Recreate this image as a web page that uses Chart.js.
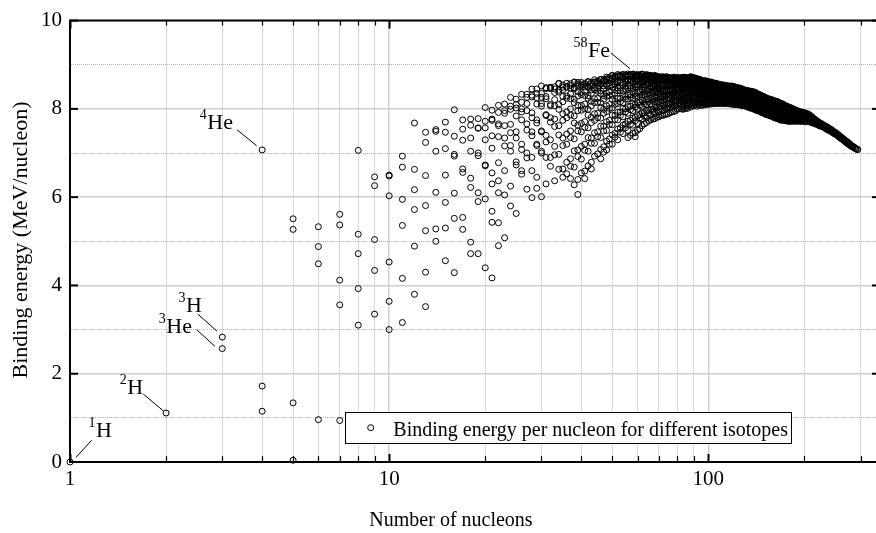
<!DOCTYPE html>
<html>
<head>
<meta charset="utf-8">
<script src="https://cdn.jsdelivr.net/npm/chart.js@4.4.1/dist/chart.umd.min.js"></script>
<style>
html,body{margin:0;padding:0;overflow:hidden;background:#fff;width:876px;height:533px}
canvas{display:block}
</style>
</head>
<body>
<canvas id="c" width="884" height="533"></canvas>
<script>
// ---------------- DATA ----------------
const massNumbers = [
  1,2,3,4,5,6,7,8,9,10,11,12,13,14,15,16,17,18,19,20,21,22,23,24,25,26,27,28,29,30,31,32,
  33,34,35,36,37,38,39,40,41,42,43,44,45,46,47,48,49,50,51,52,53,54,55,56,57,58,59,
  60,61,62,63,64,65,66,67,68,69,70,71,72,73,74,75,76,77,78,79,
  80,81,82,83,84,85,86,87,88,89,90,91,92,93,94,95,96,97,98,99,
  100,102,104,106,108,110,112,114,116,118,120,122,124,126,128,130,132,134,136,138,140,142,144,146,148,150,
  152,154,156,158,160,162,164,166,168,170,172,174,176,178,180,182,184,186,188,190,192,194,196,198,200,
  203,206,209,212,215,218,221,224,227,230,233,236,239,242,245,248,251,254,257,260,263,266,269,272,275,278,281,284,287,290,293,294
];
const bindingEnergies = [
  [0],
  [1.11],
  [2.83,2.57],
  [7.07,1.72,1.15],
  [5.51,5.27,1.34,0.04],
  [5.33,4.88,4.49,0.96],
  [5.61,5.37,4.12,3.56,0.94],
  [7.06,5.16,4.72,3.93,3.10],
  [6.46,6.26,5.04,4.34,3.35],
  [6.50,6.48,6.03,4.53,3.64,3.00],
  [6.93,6.68,5.95,5.36,4.16,3.16],
  [7.68,6.63,6.17,5.72,4.89,3.80],
  [7.47,7.24,6.49,5.81,5.24,4.30,3.52],
  [7.53,7.49,7.04,6.11,5.28,5.00],
  [7.70,7.47,7.10,6.50,5.88,5.30,4.56],
  [7.98,7.38,6.97,6.93,6.09,5.52,4.29],
  [7.75,7.54,7.29,6.64,6.56,5.54,5.27],
  [7.77,7.63,7.34,7.04,6.43,6.22,4.98,4.72],
  [7.78,7.57,7.56,7.00,6.94,6.10,5.90,4.72],
  [8.03,7.72,7.57,7.30,6.73,6.71,5.96,4.40],
  [7.97,7.77,7.74,7.39,7.11,6.55,6.30,5.68,5.43,4.17],
  [8.08,7.92,7.66,7.62,7.37,6.78,6.37,6.10,5.42,4.90],
  [8.11,7.96,7.90,7.62,7.34,7.16,6.60,6.05,5.08],
  [8.26,8.06,7.99,7.65,7.46,7.17,7.04,6.25,5.80],
  [8.22,8.10,8.02,7.84,7.48,7.34,6.80,6.73,5.63],
  [8.33,8.15,8.00,7.93,7.75,7.20,7.08,6.60,6.52],
  [8.33,8.26,8.12,7.96,7.66,7.52,7.00,6.89,6.18],
  [8.45,8.31,8.27,7.91,7.80,7.48,7.39,6.90,6.60,5.99],
  [8.45,8.35,8.25,8.11,7.75,7.68,7.20,7.17,6.45,6.20],
  [8.52,8.35,8.26,8.12,8.06,7.50,7.48,7.04,7.00,6.01],
  [8.48,8.46,8.28,8.23,7.87,7.85,7.40,7.25,6.90,6.30],
  [8.49,8.48,8.46,8.10,8.07,7.80,7.70,7.30,6.90,6.70],
  [8.50,8.45,8.37,8.21,8.07,7.77,7.60,7.15,6.96,6.37],
  [8.58,8.57,8.42,8.38,8.10,7.99,7.62,7.41,6.97,6.63],
  [8.54,8.49,8.43,8.28,8.16,7.89,7.74,7.34,7.17,6.64,6.45],
  [8.58,8.51,8.49,8.29,8.24,7.93,7.80,7.43,7.20,6.79,6.53],
  [8.57,8.53,8.47,8.34,8.23,8.00,7.86,7.50,7.35,6.87,6.70,6.42],
  [8.61,8.60,8.48,8.45,8.22,8.14,7.84,7.68,7.32,7.05,6.68,6.28],
  [8.60,8.56,8.51,8.39,8.29,8.08,7.96,7.63,7.50,7.07,6.92,6.40,6.06],
  [8.60,8.54,8.53,8.37,8.32,8.08,7.97,7.67,7.48,7.15,6.86,6.55],
  [8.58,8.55,8.50,8.39,8.30,8.11,8.00,7.71,7.58,7.20,7.06,6.59,6.42],
  [8.62,8.61,8.51,8.49,8.30,8.24,7.99,7.86,7.57,7.35,7.04,6.71],
  [8.60,8.57,8.52,8.43,8.35,8.17,8.07,7.81,7.69,7.34,7.22,6.79,6.64],
  [8.66,8.61,8.60,8.47,8.43,8.23,8.14,7.89,7.74,7.46,7.22,6.93],
  [8.63,8.60,8.56,8.47,8.40,8.24,8.15,7.90,7.80,7.48,7.37,6.98],
  [8.67,8.66,8.58,8.56,8.41,8.35,8.14,8.03,7.79,7.61,7.35,7.08,6.87],
  [8.66,8.63,8.60,8.52,8.45,8.30,8.22,7.99,7.90,7.61,7.50,7.14,7.02],
  [8.72,8.68,8.67,8.56,8.53,8.36,8.28,8.07,7.94,7.71,7.51,7.27,7.07],
  [8.71,8.69,8.65,8.58,8.52,8.38,8.30,8.10,8.01,7.74,7.65,7.32,7.20],
  [8.76,8.75,8.69,8.67,8.54,8.49,8.31,8.22,8.02,7.86,7.64,7.41,7.20],
  [8.74,8.72,8.69,8.62,8.56,8.44,8.36,8.17,8.10,7.85,7.76,7.45,7.36],
  [8.78,8.75,8.74,8.64,8.61,8.47,8.41,8.23,8.12,7.92,7.75,7.54,7.30],
  [8.76,8.74,8.71,8.65,8.59,8.48,8.41,8.24,8.16,7.93,7.85,7.57,7.47],
  [8.78,8.77,8.72,8.70,8.59,8.55,8.40,8.32,8.14,8.01,7.82,7.63,7.44],
  [8.77,8.75,8.72,8.67,8.62,8.51,8.45,8.28,8.22,8.00,7.93,7.66,7.57],
  [8.79,8.76,8.75,8.67,8.65,8.52,8.47,8.31,8.22,8.05,7.90,7.72,7.51,7.35],
  [8.77,8.75,8.73,8.67,8.63,8.53,8.47,8.32,8.26,8.06,7.98,7.74,7.65,7.40],
  [8.79,8.78,8.73,8.72,8.62,8.59,8.46,8.39,8.24,8.12,7.96,7.79,7.63,7.45],
  [8.77,8.75,8.73,8.68,8.64,8.54,8.49,8.35,8.29,8.10,8.04,7.81,7.73,7.46,7.37],
  [8.78,8.75,8.74,8.68,8.66,8.55,8.50,8.37,8.28,8.14,8.01,7.85,7.67,7.52],
  [8.77,8.75,8.73,8.69,8.65,8.56,8.51,8.38,8.32,8.15,8.08,7.87,7.80,7.55],
  [8.79,8.78,8.74,8.73,8.64,8.61,8.50,8.44,8.31,8.20,8.06,7.91,7.77,7.62],
  [8.75,8.74,8.71,8.67,8.63,8.55,8.50,8.38,8.33,8.17,8.11,7.91,7.84,7.66],
  [8.78,8.76,8.75,8.69,8.67,8.58,8.53,8.42,8.34,8.21,8.10,7.96,7.80,7.69],
  [8.76,8.75,8.73,8.69,8.65,8.57,8.53,8.41,8.36,8.21,8.16,7.97,7.90,7.73],
  [8.76,8.75,8.72,8.71,8.63,8.60,8.50,8.45,8.33,8.24,8.12,7.99,7.86,7.75],
  [8.74,8.73,8.71,8.67,8.64,8.56,8.52,8.41,8.37,8.22,8.17,7.99,7.93,7.77],
  [8.76,8.74,8.73,8.68,8.66,8.58,8.54,8.44,8.37,8.26,8.16,8.04,7.90,7.78],
  [8.73,8.72,8.70,8.66,8.63,8.56,8.53,8.42,8.38,8.24,8.19,8.03,7.97,7.81],
  [8.73,8.72,8.69,8.68,8.62,8.59,8.50,8.45,8.35,8.27,8.16,8.04,7.93,7.82],
  [8.72,8.71,8.69,8.66,8.63,8.56,8.53,8.43,8.39,8.26,8.21,8.06,8.00,7.85],
  [8.73,8.71,8.70,8.66,8.64,8.57,8.54,8.44,8.39,8.28,8.19,8.09,7.96,7.85],
  [8.71,8.70,8.68,8.65,8.62,8.56,8.53,8.43,8.39,8.27,8.23,8.08,8.03,7.87],
  [8.73,8.72,8.70,8.69,8.63,8.61,8.53,8.48,8.39,8.32,8.22,8.11,8.02,7.88],
  [8.70,8.69,8.68,8.64,8.62,8.56,8.53,8.44,8.40,8.29,8.25,8.11,8.06,7.89],
  [8.71,8.69,8.68,8.65,8.63,8.57,8.54,8.45,8.40,8.31,8.23,8.13,8.02,7.92],
  [8.70,8.69,8.68,8.65,8.62,8.57,8.54,8.45,8.42,8.31,8.27,8.13,8.09,7.93],
  [8.72,8.71,8.69,8.68,8.63,8.61,8.54,8.50,8.41,8.35,8.26,8.17,8.08,7.94],
  [8.69,8.68,8.67,8.64,8.62,8.56,8.53,8.45,8.42,8.32,8.28,8.15,8.11,7.96],
  [8.71,8.70,8.69,8.65,8.64,8.58,8.55,8.48,8.43,8.35,8.28,8.19,8.09,8.00],
  [8.70,8.69,8.68,8.65,8.63,8.58,8.55,8.48,8.44,8.35,8.31,8.19,8.15,8.00],
  [8.71,8.70,8.68,8.67,8.63,8.61,8.54,8.51,8.43,8.38,8.30,8.21,8.13,8.01],
  [8.70,8.69,8.68,8.65,8.63,8.59,8.56,8.49,8.46,8.36,8.33,8.21,8.17,8.04,7.99],
  [8.72,8.71,8.70,8.67,8.66,8.60,8.58,8.51,8.47,8.39,8.32,8.24,8.15,8.07,8.00],
  [8.70,8.69,8.68,8.66,8.64,8.59,8.56,8.50,8.47,8.38,8.35,8.24,8.20,8.07,8.02],
  [8.71,8.70,8.68,8.67,8.63,8.62,8.56,8.53,8.46,8.41,8.33,8.25,8.18,8.07,8.01],
  [8.71,8.70,8.69,8.67,8.65,8.61,8.58,8.52,8.49,8.40,8.37,8.27,8.23,8.11,8.06],
  [8.73,8.72,8.71,8.68,8.67,8.62,8.60,8.54,8.50,8.43,8.37,8.30,8.21,8.14,8.04],
  [8.71,8.70,8.69,8.67,8.65,8.61,8.59,8.53,8.50,8.42,8.39,8.29,8.25,8.14,8.10],
  [8.71,8.70,8.69,8.68,8.64,8.63,8.57,8.54,8.48,8.43,8.37,8.29,8.23,8.13,8.07],
  [8.69,8.68,8.67,8.65,8.63,8.59,8.57,8.51,8.49,8.41,8.38,8.29,8.25,8.14,8.10],
  [8.69,8.68,8.67,8.65,8.64,8.59,8.57,8.51,8.48,8.42,8.36,8.29,8.22,8.15,8.06],
  [8.66,8.65,8.64,8.62,8.61,8.57,8.55,8.49,8.47,8.39,8.36,8.27,8.24,8.13,8.09],
  [8.67,8.66,8.65,8.64,8.61,8.59,8.54,8.52,8.46,8.42,8.36,8.29,8.23,8.14,8.08],
  [8.64,8.63,8.62,8.60,8.59,8.55,8.53,8.48,8.45,8.38,8.36,8.27,8.24,8.14,8.10],
  [8.64,8.63,8.62,8.60,8.59,8.55,8.53,8.48,8.45,8.39,8.34,8.28,8.21,8.15,8.08],
  [8.62,8.61,8.60,8.59,8.57,8.54,8.52,8.46,8.44,8.37,8.35,8.26,8.23,8.13,8.10],
  [8.64,8.63,8.62,8.61,8.58,8.57,8.52,8.50,8.45,8.41,8.35,8.29,8.23,8.15,8.10],
  [8.61,8.60,8.59,8.58,8.56,8.53,8.51,8.46,8.44,8.37,8.35,8.27,8.24,8.14,8.11],
  [8.62,8.61,8.60,8.58,8.57,8.54,8.52,8.47,8.44,8.39,8.34,8.29,8.22,8.16,8.10],
  [8.61,8.60,8.59,8.58,8.57,8.53,8.52,8.47,8.45,8.39,8.36,8.29,8.26,8.17,8.14,8.11],
  [8.59,8.58,8.57,8.56,8.54,8.53,8.49,8.47,8.42,8.38,8.33,8.28,8.23,8.15,8.12],
  [8.58,8.57,8.56,8.55,8.54,8.51,8.49,8.45,8.43,8.37,8.35,8.28,8.26,8.17,8.15,8.12],
  [8.56,8.55,8.54,8.53,8.52,8.49,8.47,8.43,8.41,8.36,8.32,8.27,8.22,8.17,8.12],
  [8.55,8.54,8.53,8.52,8.51,8.48,8.47,8.43,8.41,8.36,8.34,8.27,8.25,8.17,8.15,8.12],
  [8.54,8.53,8.52,8.51,8.50,8.49,8.45,8.43,8.39,8.36,8.32,8.27,8.23,8.16,8.12],
  [8.53,8.52,8.51,8.50,8.49,8.47,8.45,8.42,8.40,8.35,8.33,8.27,8.25,8.18,8.15,8.12],
  [8.52,8.51,8.50,8.49,8.48,8.46,8.45,8.41,8.39,8.35,8.31,8.27,8.22,8.18,8.12],
  [8.52,8.51,8.50,8.49,8.48,8.46,8.45,8.41,8.40,8.35,8.34,8.28,8.26,8.19,8.17,8.11],
  [8.51,8.50,8.49,8.48,8.47,8.46,8.43,8.42,8.38,8.35,8.32,8.28,8.24,8.18,8.15,8.10],
  [8.49,8.48,8.47,8.46,8.45,8.44,8.42,8.39,8.38,8.33,8.32,8.27,8.25,8.18,8.16,8.10],
  [8.48,8.47,8.46,8.45,8.44,8.43,8.41,8.38,8.36,8.33,8.30,8.26,8.22,8.18,8.12,8.09],
  [8.47,8.46,8.45,8.44,8.43,8.42,8.41,8.38,8.36,8.32,8.31,8.26,8.24,8.18,8.16,8.09],
  [8.45,8.44,8.43,8.42,8.41,8.40,8.38,8.37,8.34,8.31,8.28,8.24,8.21,8.16,8.13,8.07],
  [8.43,8.42,8.41,8.40,8.39,8.38,8.37,8.34,8.33,8.29,8.28,8.23,8.22,8.16,8.14,8.08],
  [8.42,8.41,8.40,8.39,8.38,8.37,8.36,8.33,8.32,8.29,8.26,8.23,8.19,8.16,8.10,8.05],
  [8.41,8.40,8.39,8.38,8.37,8.36,8.33,8.32,8.28,8.27,8.22,8.21,8.16,8.14,8.08,8.03],
  [8.40,8.39,8.38,8.37,8.36,8.34,8.33,8.30,8.28,8.25,8.22,8.19,8.14,8.12,8.06,8.02],
  [8.39,8.38,8.37,8.36,8.35,8.34,8.31,8.30,8.27,8.26,8.21,8.20,8.15,8.13,8.08,8.06,8.00],
  [8.38,8.37,8.36,8.35,8.34,8.33,8.30,8.29,8.26,8.24,8.21,8.18,8.15,8.10,8.08,8.02,7.98],
  [8.35,8.34,8.33,8.32,8.31,8.30,8.28,8.27,8.23,8.22,8.18,8.17,8.12,8.11,8.05,8.04,7.98,7.96],
  [8.33,8.32,8.31,8.30,8.29,8.28,8.27,8.24,8.22,8.20,8.17,8.14,8.10,8.08,8.03,8.01,7.95],
  [8.31,8.30,8.29,8.28,8.27,8.26,8.24,8.23,8.20,8.19,8.15,8.14,8.10,8.08,8.03,8.01,7.96,7.93],
  [8.29,8.28,8.27,8.26,8.25,8.24,8.22,8.21,8.18,8.16,8.14,8.11,8.08,8.04,8.02,7.96,7.94,7.91],
  [8.27,8.26,8.25,8.24,8.23,8.22,8.20,8.19,8.17,8.16,8.12,8.11,8.07,8.05,8.01,7.99,7.94,7.92,7.89],
  [8.25,8.24,8.23,8.20,8.17,8.13,8.08,8.02,7.96,7.89,7.87],
  [8.23,8.21,8.19,8.17,8.13,8.09,8.04,7.98,7.91,7.86],
  [8.22,8.21,8.20,8.17,8.14,8.11,8.06,8.01,7.94,7.88,7.84],
  [8.21,8.20,8.18,8.15,8.12,8.08,8.03,7.97,7.91,7.84],
  [8.19,8.18,8.17,8.15,8.12,8.08,8.04,7.99,7.93,7.86,7.81],
  [8.18,8.17,8.15,8.12,8.09,8.05,8.01,7.95,7.89,7.83,7.79],
  [8.17,8.16,8.15,8.13,8.10,8.07,8.02,7.98,7.92,7.86,7.79],
  [8.15,8.14,8.12,8.10,8.07,8.03,7.98,7.93,7.88,7.81,7.77],
  [8.13,8.12,8.11,8.09,8.06,8.03,7.99,7.95,7.89,7.83,7.77,7.75],
  [8.12,8.11,8.09,8.07,8.04,8.00,7.96,7.91,7.86,7.80,7.74],
  [8.10,8.09,8.08,8.06,8.04,8.01,7.97,7.92,7.87,7.82,7.75],
  [8.08,8.07,8.05,8.03,8.00,7.97,7.93,7.88,7.83,7.77,7.73],
  [8.06,8.05,8.04,8.02,8.00,7.97,7.93,7.89,7.84,7.79,7.73],
  [8.05,8.04,8.02,8.00,7.98,7.94,7.91,7.86,7.81,7.76,7.72],
  [8.03,8.02,8.01,8.00,7.97,7.94,7.91,7.87,7.82,7.77,7.72],
  [8.02,8.01,7.99,7.98,7.95,7.92,7.88,7.84,7.79,7.74,7.72],
  [8.00,7.99,7.98,7.97,7.95,7.92,7.88,7.85,7.80,7.75,7.72],
  [7.99,7.98,7.97,7.95,7.92,7.89,7.86,7.82,7.77,7.72],
  [7.97,7.96,7.95,7.94,7.92,7.89,7.86,7.82,7.78,7.73],
  [7.96,7.95,7.94,7.92,7.90,7.87,7.83,7.80,7.75,7.72],
  [7.94,7.93,7.92,7.91,7.89,7.86,7.83,7.80,7.76,7.72],
  [7.93,7.92,7.91,7.89,7.87,7.84,7.81,7.77,7.73],
  [7.93,7.92,7.91,7.90,7.88,7.86,7.83,7.79,7.76,7.72],
  [7.92,7.91,7.90,7.88,7.86,7.83,7.80,7.77,7.73],
  [7.91,7.90,7.89,7.88,7.86,7.84,7.81,7.78,7.74,7.71],
  [7.90,7.88,7.85,7.82,7.78,7.74,7.71],
  [7.88,7.86,7.83,7.80,7.77,7.74,7.71],
  [7.85,7.83,7.81,7.78,7.75,7.72,7.70],
  [7.81,7.80,7.78,7.75,7.73,7.70,7.68],
  [7.77,7.76,7.74,7.72,7.69,7.67],
  [7.74,7.73,7.71,7.69,7.67,7.65],
  [7.71,7.70,7.68,7.66,7.63],
  [7.68,7.67,7.65,7.63,7.61],
  [7.66,7.65,7.63,7.60],
  [7.63,7.62,7.60,7.58],
  [7.61,7.59,7.57,7.55],
  [7.59,7.57,7.55,7.53],
  [7.56,7.55,7.53,7.51],
  [7.54,7.52,7.51,7.49],
  [7.51,7.49,7.48,7.46],
  [7.48,7.47,7.45,7.44],
  [7.46,7.44,7.42],
  [7.43,7.41,7.39],
  [7.40,7.38,7.36],
  [7.37,7.35,7.33],
  [7.34,7.32,7.31],
  [7.31,7.30,7.28],
  [7.28,7.27,7.25],
  [7.26,7.24,7.22],
  [7.23,7.21,7.20],
  [7.20,7.18,7.17],
  [7.17,7.16,7.15],
  [7.15,7.14,7.13],
  [7.13,7.11],
  [7.10,7.09],
  [7.08],
  [7.08]
];
// odd mass numbers in the dense heavy band (A = 101 ... 199)
const heavyOddMassNumbers = [
  101,103,105,107,109,111,113,115,117,119,121,123,125,127,129,131,133,135,137,139,141,143,145,147,149,
  151,153,155,157,159,161,163,165,167,169,171,173,175,177,179,181,183,185,187,189,191,193,195,197,199
];
const heavyOddBindingEnergies = [
  [8.60,8.55,8.51,8.45,8.40,8.36,8.30,8.25,8.21,8.15],
  [8.57,8.52,8.48,8.42,8.37,8.33,8.27,8.22,8.17,8.12],
  [8.57,8.52,8.46,8.42,8.37,8.31,8.27,8.22,8.16,8.12],
  [8.54,8.49,8.45,8.39,8.34,8.30,8.24,8.19,8.14],
  [8.54,8.49,8.44,8.40,8.34,8.29,8.25,8.19,8.14],
  [8.52,8.46,8.41,8.37,8.31,8.26,8.22,8.16,8.13],
  [8.52,8.47,8.42,8.36,8.32,8.27,8.21,8.17,8.12],
  [8.50,8.44,8.39,8.35,8.29,8.24,8.20,8.14],
  [8.51,8.46,8.40,8.36,8.31,8.25,8.21,8.16,8.11],
  [8.48,8.43,8.39,8.33,8.28,8.24,8.18,8.13],
  [8.49,8.44,8.38,8.34,8.29,8.23,8.19,8.14,8.10],
  [8.46,8.40,8.35,8.31,8.25,8.20,8.16,8.10],
  [8.46,8.41,8.37,8.31,8.26,8.22,8.16,8.11],
  [8.44,8.38,8.33,8.29,8.23,8.18,8.14,8.08],
  [8.43,8.38,8.34,8.28,8.23,8.19,8.13,8.08],
  [8.40,8.34,8.29,8.25,8.19,8.14,8.10,8.06],
  [8.40,8.35,8.31,8.25,8.20,8.16,8.10,8.05],
  [8.38,8.32,8.27,8.23,8.17,8.12,8.08,8.02],
  [8.38,8.33,8.29,8.23,8.18,8.14,8.08,8.03],
  [8.36,8.30,8.25,8.21,8.15,8.10,8.06,8.00],
  [8.35,8.30,8.26,8.20,8.15,8.11,8.05,8.00],
  [8.32,8.26,8.21,8.17,8.11,8.06,8.02,7.96],
  [8.31,8.26,8.22,8.16,8.11,8.07,8.01,7.96],
  [8.28,8.22,8.17,8.13,8.07,8.02,7.98,7.92],
  [8.27,8.22,8.18,8.12,8.07,8.03,7.97,7.92],
  [8.25,8.20,8.16,8.10,8.05,8.01,7.95,7.90],
  [8.22,8.16,8.11,8.07,8.01,7.96,7.92,7.87],
  [8.22,8.17,8.13,8.07,8.02,7.98,7.92,7.87],
  [8.19,8.13,8.08,8.04,7.98,7.93,7.89,7.84],
  [8.19,8.14,8.10,8.04,7.99,7.95,7.89,7.84],
  [8.16,8.10,8.05,8.01,7.95,7.90,7.86,7.81],
  [8.16,8.11,8.07,8.01,7.96,7.92,7.86,7.81],
  [8.14,8.08,8.03,7.99,7.93,7.88,7.84,7.78],
  [8.13,8.08,8.04,7.98,7.93,7.89,7.83,7.78],
  [8.10,8.04,7.99,7.95,7.89,7.84,7.79],
  [8.10,8.05,8.01,7.95,7.90,7.86,7.80,7.75],
  [8.07,8.01,7.96,7.92,7.86,7.81,7.76],
  [8.06,8.01,7.97,7.91,7.86,7.82,7.76],
  [8.03,7.97,7.92,7.88,7.82,7.77,7.73],
  [8.03,7.98,7.94,7.88,7.83,7.79,7.73],
  [8.00,7.94,7.89,7.85,7.79,7.74],
  [8.00,7.95,7.91,7.85,7.80,7.76],
  [7.97,7.91,7.86,7.82,7.76],
  [7.97,7.92,7.88,7.82,7.77,7.73],
  [7.94,7.88,7.83,7.79,7.73],
  [7.94,7.89,7.85,7.79,7.74],
  [7.92,7.86,7.81,7.77],
  [7.92,7.87,7.83,7.77,7.72],
  [7.90,7.84,7.79,7.75],
  [7.90,7.85,7.81,7.75]
];
const seriesLabel = 'Binding energy per nucleon for different isotopes';
const xAxisTitle = 'Number of nucleons';
const yAxisTitle = 'Binding energy (MeV/nucleon)';
const xTickValues = [1,2,3,4,5,6,7,8,9,10,20,30,40,50,60,70,80,90,100,200,300];
const xTickLabels = ['1','10','100'];
const yTickLabels = ['0','2','4','6','8','10'];
// labelled isotopes
const labelMass = ['1','2','3','3','4','58'];
const labelSymbol = ['H','H','H','He','He','Fe'];
const labelA = [1,2,3,3,4,58];
const labelEnergy = [0,1.11,2.83,2.57,7.07,8.79];

// ---------------- STYLE / LAYOUT ----------------
const SERIF = '"Liberation Serif","Times New Roman",serif';
// [line start dx,dy, line end dx,dy, text right dx, text baseline dy] relative to the point pixel
const labelLayout = [
  [6,-4.7, 21.7,-21.7, 42,-24.7],
  [-2.8,-2.2, -22.8,-18.9, -23,-19],
  [-5.3,-5.9, -24.3,-22.9, -20.3,-24.9],
  [-7.3,-2.2, -25.6,-18.9, -30.3,-15.2],
  [-5.5,-4.2, -25.2,-20.2, -29.2,-20.9],
  [-2.9,-5.4, -21.9,-21.1, -22.9,-17.4]
];

const points = [];
massNumbers.forEach((A, i) => (bindingEnergies[i] || []).forEach(be => points.push({x: A, y: be})));
heavyOddMassNumbers.forEach((A, i) => (heavyOddBindingEnergies[i] || []).forEach(be => points.push({x: A, y: be})));

const isMajorX = v => Math.abs(Math.log10(v) - Math.round(Math.log10(v))) < 1e-9;

const overlay = {
  id: 'overlay',
  afterDraw(chart) {
    const {ctx, chartArea: ca, scales: {x, y}} = chart;
    const line = (x1, y1, x2, y2) => { ctx.beginPath(); ctx.moveTo(x1, y1); ctx.lineTo(x2, y2); ctx.stroke(); };
    ctx.save();
    ctx.strokeStyle = '#000';
    ctx.lineWidth = 2;
    line(ca.left - 1, ca.top, ca.right + 1, ca.top);
    line(ca.right, ca.top, ca.right, ca.bottom);
    x.ticks.forEach(t => {
      const px = Math.round(x.getPixelForValue(t.value)) + 0.5;
      const major = isMajorX(t.value);
      ctx.lineWidth = major ? 2 : 1.2;
      line(px, ca.bottom, px, ca.bottom - (major ? 8 : 6));
      line(px, ca.top, px, ca.top + (major ? 8 : 5));
    });
    y.ticks.forEach(t => {
      if (t.value % 2 !== 0) return;
      const py = y.getPixelForValue(t.value);
      ctx.lineWidth = 2;
      line(ca.left, py, ca.left + 8, py);
      line(ca.right, py, ca.right - 8, py);
    });
    // legend
    ctx.fillStyle = '#fff';
    ctx.fillRect(345, 412, 447, 31);
    ctx.lineWidth = 1;
    ctx.strokeRect(345.5, 412.5, 446, 31);
    ctx.beginPath(); ctx.arc(370.7, 427.7, 3, 0, Math.PI * 2); ctx.stroke();
    ctx.fillStyle = '#000';
    ctx.font = '20px ' + SERIF;
    ctx.textAlign = 'left'; ctx.textBaseline = 'alphabetic';
    ctx.fillText(seriesLabel, 393.3, 436);
    // isotope labels
    labelA.forEach((A, i) => {
      const px = x.getPixelForValue(A), py = y.getPixelForValue(labelEnergy[i]);
      const L = labelLayout[i];
      ctx.lineWidth = 1;
      line(px + L[0], py + L[1], px + L[2], py + L[3]);
      const tx = px + L[4], ty = py + L[5];
      ctx.font = '22px ' + SERIF;
      ctx.textAlign = 'right';
      ctx.fillText(labelSymbol[i], tx, ty);
      const w = ctx.measureText(labelSymbol[i]).width;
      ctx.font = '14px ' + SERIF;
      ctx.fillText(labelMass[i], tx - w - 0.5, ty - 10);
    });
    // axis titles
    ctx.font = '20px ' + SERIF;
    ctx.textAlign = 'center';
    ctx.fillText(xAxisTitle, 451, 526);
    ctx.save();
    ctx.translate(27, 240);
    ctx.rotate(-Math.PI / 2);
    ctx.font = '22px ' + SERIF;
    ctx.fillText(yAxisTitle, 0, 0);
    ctx.restore();
    ctx.restore();
  }
};

new Chart(document.getElementById('c'), {
  type: 'scatter',
  data: {
    datasets: [{
      label: seriesLabel,
      data: points,
      pointRadius: 3,
      pointHoverRadius: 3,
      pointBorderWidth: 1,
      pointBorderColor: '#000',
      pointBackgroundColor: 'rgba(0,0,0,0)',
      showLine: false,
      clip: false
    }]
  },
  options: {
    responsive: false,
    animation: false,
    events: [],
    layout: {padding: {top: 17, right: 4, left: 0, bottom: 0}},
    plugins: {legend: {display: false}, tooltip: {enabled: false}},
    scales: {
      x: {
        type: 'logarithmic',
        min: 1, max: 345,
        afterBuildTicks: s => { s.ticks = xTickValues.map(v => ({value: v, major: isMajorX(v)})); },
        afterFit: s => { s.height = 71; },
        ticks: {
          autoSkip: false, maxRotation: 0, padding: 5, color: '#000',
          font: {family: SERIF, size: 21},
          major: {enabled: false},
          callback: v => { const i = [1, 10, 100].indexOf(v); return i >= 0 ? xTickLabels[i] : ''; }
        },
        grid: {
          drawTicks: false,
          color: c => (c.tick && isMajorX(c.tick.value)) ? '#cfcfcf' : '#b4b4b4',
          lineWidth: c => (c.tick && isMajorX(c.tick.value)) ? 1.5 : 1
        },
        border: {
          display: true, color: '#000', width: 2,
          dash: c => (c.tick && !isMajorX(c.tick.value)) ? [1, 1] : []
        }
      },
      y: {
        type: 'linear',
        min: 0, max: 10,
        afterFit: s => { s.width = 70; },
        ticks: {
          stepSize: 1, autoSkip: false, padding: 8, color: '#000',
          font: {family: SERIF, size: 21},
          callback: v => (v % 2 === 0 ? yTickLabels[v / 2] : '')
        },
        grid: {
          drawTicks: false,
          color: c => (c.tick && c.tick.value % 2 === 0) ? '#cfcfcf' : '#b4b4b4',
          lineWidth: c => (c.tick && c.tick.value % 2 === 0) ? 1.5 : 1
        },
        border: {
          display: true, color: '#000', width: 2,
          dash: c => (c.tick && c.tick.value % 2 !== 0) ? [1, 1] : []
        }
      }
    }
  },
  plugins: [overlay]
});
</script>
</body>
</html>
